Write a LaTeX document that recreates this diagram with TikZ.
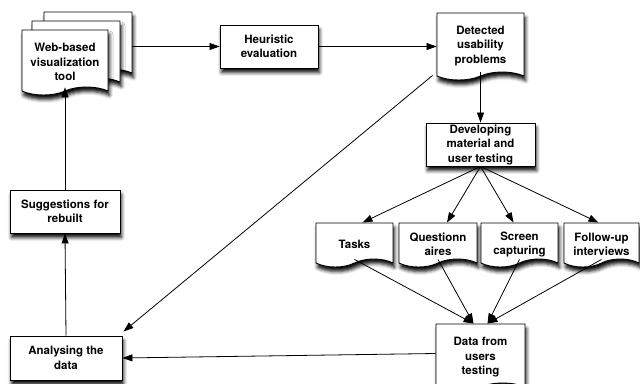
\documentclass[tikz,border=0pt]{standalone}
\usepackage{fontspec}
\setmainfont{TeX Gyre Heros}
\usetikzlibrary{arrows.meta,shapes.symbols,shadows.blur,calc}
% taller first line, so that a document's text sits lower above its wavy edge
\newcommand\docfirst{\rule{0pt}{15.5pt}}
\begin{document}
\begin{tikzpicture}[x=1pt,y=-1pt,
  lbl/.style={font=\bfseries\fontsize{11.5}{14.5}\selectfont,align=center,inner sep=1pt},
  soft/.style={blur shadow={shadow xshift=1.5pt,shadow yshift=-4.5pt,shadow blur radius=3.5pt,shadow opacity=95}},
  procbox/.style={lbl,rectangle,draw=black,line width=0.9pt,fill=white,soft},
  docbox/.style={lbl,tape,tape bend top=none,tape bend bottom=in and out,tape bend height=8pt,
                 draw=black,line width=0.9pt,fill=white,soft},
  link/.style={line width=0.8pt,-{Triangle[length=10pt,width=7pt]}}]
\useasboundingbox (0,0) rectangle (640,383);

% stacked pages of the tool
\node[docbox,minimum width=88pt,minimum height=65pt] (toolback2) at (88,40.5) {};
\node[docbox,minimum width=88pt,minimum height=65pt] (toolback1) at (76,49.5) {};
\node[docbox,minimum width=86pt,minimum height=65pt] (tool) at (65,58.5)
  {\docfirst Web-based\\visualization\\tool};

\node[procbox,minimum width=98pt,minimum height=43pt] (heur) at (269,46.5)
  {Heuristic\\evaluation};
\node[docbox,minimum width=87pt,minimum height=67pt] (det) at (480.5,42.5)
  {\docfirst Detected\\usability\\problems};
\node[procbox,minimum width=109pt,minimum height=43pt,inner sep=0pt] (dev) at (480.5,144.5)
  {Developing\\material and\\user testing};

\node[docbox,minimum width=77pt,minimum height=44pt] (tasks) at (354.5,241) {\docfirst Tasks};
\node[docbox,minimum width=78pt,minimum height=44pt] (quest) at (438,241) {\docfirst Questionn\\aires};
\node[docbox,minimum width=77pt,minimum height=44pt] (screen) at (519.5,241) {\docfirst Screen\\capturing};
\node[docbox,minimum width=75pt,minimum height=44pt] (follow) at (601.5,241) {\docfirst Follow-up\\interviews};

\node[docbox,minimum width=89pt,minimum height=67pt] (data) at (480.5,353.5)
  {\docfirst Data from\\users\\testing};
\node[procbox,minimum width=112pt,minimum height=44pt] (analys) at (66,358)
  {Analysing the\\data};
\node[procbox,minimum width=110pt,minimum height=43pt] (sugg) at (65,211.5)
  {Suggestions for\\rebuilt};

% connectors
\coordinate (toolout) at (132,46.5);
\draw[link] (toolout) -- (heur.west);
\draw[link] (heur.east) -- (heur.east -| det.west);
\draw[link] (det.south) -- (dev.north);
\draw[link] (dev.south) -- ($(tasks.north)+(8,0)$);
\draw[link] (dev.south) -- ($(quest.north)+(9,0)$);
\draw[link] (dev.south) -- ($(screen.north)+(-6,0)$);
\draw[link] (dev.south) -- ($(follow.north)+(-3,0)$);
\draw[link] (tasks.south) -- ($(data.north)+(-7,0)$);
\draw[link] (quest.south) -- ($(data.north)+(-7,0)$);
\draw[link] (screen.south) -- ($(data.north)+(7,0)$);
\draw[link] (follow.south) -- ($(data.north)+(7,0)$);
\draw[link] (data.west) -- (analys.east);
\draw[link] ($(det.south west)+(-4,3)$) -- ($(analys.north east)+(1,-4)$);
\draw[link] (analys.north) -- (sugg.south);
\draw[link] (sugg.north) -- (tool.south);
\end{tikzpicture}
\end{document}
